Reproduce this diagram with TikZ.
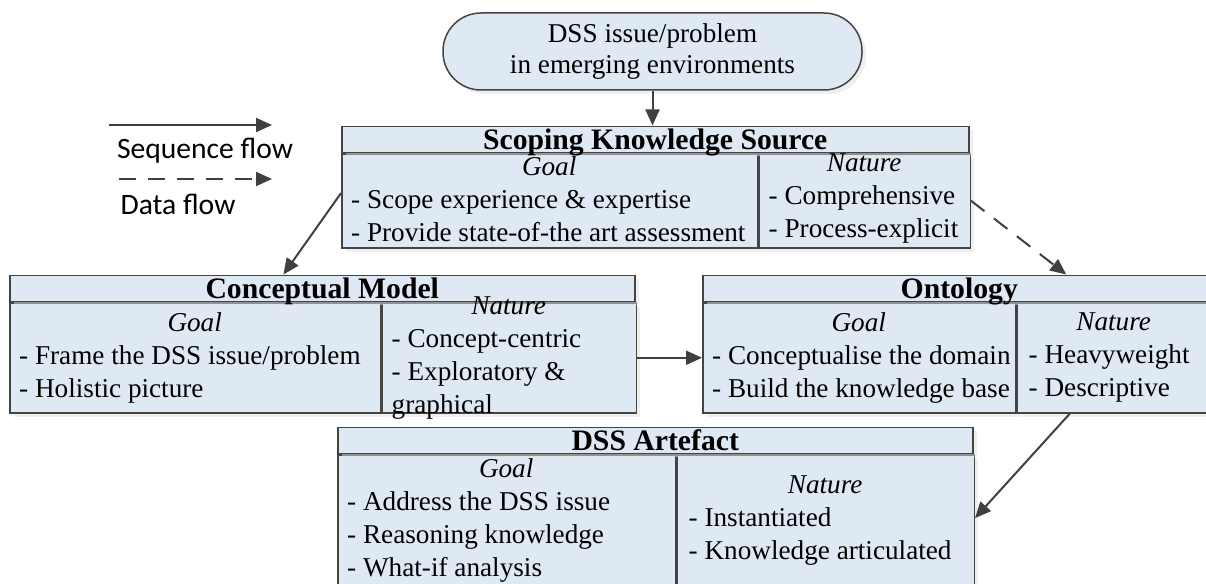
\documentclass[tikz,border=0pt]{standalone}
\usepackage{fontspec}
\setmainfont{Liberation Serif}
\newfontfamily\legendfont{Carlito}
\usetikzlibrary{positioning,calc,arrows.meta,shadows}

\definecolor{boxfill}{RGB}{222,233,244}
\definecolor{boxline}{RGB}{68,68,68}
\definecolor{flowline}{RGB}{64,64,64}

\newcommand{\coltitle}[2]{\makebox[#1]{\textit{#2}}}

\begin{document}
\begin{tikzpicture}[x=1pt,y=-1pt,
    shade box/.style={draw=boxline, line width=1.5pt, fill=boxfill,
        drop shadow={shadow xshift=4pt, shadow yshift=-4pt, fill=black!12}},
    colbox/.style={shade box, anchor=north west, inner sep=0pt},
    hdrbox/.style={shade box, anchor=south west, inner sep=0pt,
        text height=23pt, text depth=3pt, minimum height=26pt,
        font=\fontsize{29.7}{33}\selectfont\bfseries},
    coltext/.style={anchor=west, inner sep=0pt, align=left,
        font=\fontsize{27.2}{33}\selectfont},
    legendtext/.style={inner sep=0pt, font=\legendfont\fontsize{29.6}{33}\selectfont},
    seqflow/.style={draw=flowline, line width=2pt, -{Triangle[length=16pt,width=14pt]}},
    dataflow/.style={seqflow, dash pattern=on 17pt off 12pt}]
    \useasboundingbox (0,0) rectangle (1206,583);
    \clip (0,0) rectangle (1206,583);

    % Issue / problem terminator
    \node[shade box, rounded corners=38pt, minimum width=419pt, minimum height=77pt,
        inner sep=0pt, align=center, font=\fontsize{27.2}{31}\selectfont]
        (issue) at (652.5,51.5) {DSS issue/problem\\in emerging environments};

    % Scoping knowledge source
    \node[colbox, minimum width=416pt, minimum height=94pt] (scopegoal) at (341,153) {};
    \node[colbox, minimum width=211pt, minimum height=94pt, right=0pt of scopegoal] (scopenat) {};
    \node[hdrbox, minimum width=627pt] (scopehdr) at (scopegoal.north west) {Scoping Knowledge Source};
    \node[coltext, right=10pt of scopegoal.west, yshift=2pt] (scopegoaltxt)
        {\coltitle{396pt}{Goal}\\- Scope experience \& expertise\\- Provide state-of-the art assessment};
    \node[coltext, right=10pt of scopenat.west, yshift=2pt] (scopenattxt)
        {\coltitle{191pt}{Nature}\\- Comprehensive\\- Process-explicit};

    % Conceptual model
    \node[colbox, minimum width=371pt, minimum height=110pt] (congoal) at (9,302) {};
    \node[colbox, minimum width=254pt, minimum height=110pt, right=0pt of congoal] (connat) {};
    \node[hdrbox, minimum width=625pt] (conhdr) at (congoal.north west) {Conceptual Model};
    \node[coltext, right=10pt of congoal.west] (congoaltxt)
        {\coltitle{351pt}{Goal}\\- Frame the DSS issue/problem\\- Holistic picture};
    \node[coltext, right=10pt of connat.west] (connattxt)
        {\coltitle{234pt}{Nature}\\- Concept-centric\\- Exploratory \&\\graphical};

    % Ontology
    \node[colbox, minimum width=313pt, minimum height=110pt] (ontgoal) at (702,302) {};
    \node[colbox, minimum width=200pt, minimum height=110pt, right=0pt of ontgoal] (ontnat) {};
    \node[hdrbox, minimum width=513pt] (onthdr) at (ontgoal.north west) {Ontology};
    \node[coltext, right=10pt of ontgoal.west] (ontgoaltxt)
        {\coltitle{293pt}{Goal}\\- Conceptualise the domain\\- Build the knowledge base};
    \node[coltext, right=12pt of ontnat.west] (ontnattxt)
        {\coltitle{170pt}{Nature}\\- Heavyweight\\- Descriptive};

    % DSS artefact
    \node[colbox, minimum width=338pt, minimum height=132pt] (dssgoal) at (337,454) {};
    \node[colbox, minimum width=297pt, minimum height=132pt, right=0pt of dssgoal] (dssnat) {};
    \node[hdrbox, minimum width=635pt] (dsshdr) at (dssgoal.north west) {DSS Artefact};
    \node[coltext, right=10pt of dssgoal.west] (dssgoaltxt)
        {\coltitle{318pt}{Goal}\\- Address the DSS issue\\- Reasoning knowledge\\- What-if analysis};
    \node[coltext, right=12pt of dssnat.west] (dssnattxt)
        {\coltitle{273pt}{Nature}\\- Instantiated\\- Knowledge articulated};

    % Flows between the parts
    \draw[seqflow] (issue.south) -- (issue.south |- scopehdr.north);
    \coordinate (scopeout) at ($(scopegoal.north west)!0.42!(scopegoal.south west)$);
    \coordinate (conin) at ($(conhdr.north west)!0.438!(conhdr.north east)$);
    \draw[seqflow] (scopeout) -- (conin);
    \coordinate (ontin) at ($(onthdr.north west)!0.708!(onthdr.north east)$);
    \draw[dataflow] (scopenat.east) -- (ontin);
    \draw[seqflow] (connat.east) -- (ontgoal.west);
    \coordinate (ontout) at ($(ontnat.south west)!0.265!(ontnat.south east)$);
    \coordinate (dssin) at ($(dssnat.north east)!0.48!(dssnat.south east)$);
    \draw[seqflow] (ontout) -- (dssin);

    % Legend
    \coordinate (seqstart) at (109,125);
    \coordinate (seqend) at (272,125);
    \draw[seqflow] (seqstart) -- (seqend);
    \node[legendtext] (seqlabel) at (205,151) {Sequence flow};
    \coordinate (datastart) at (119,179);
    \coordinate (dataend) at (272,179);
    \draw[dataflow] (datastart) -- (dataend);
    \node[legendtext] (datalabel) at (178,204) {Data flow};
\end{tikzpicture}
\end{document}
